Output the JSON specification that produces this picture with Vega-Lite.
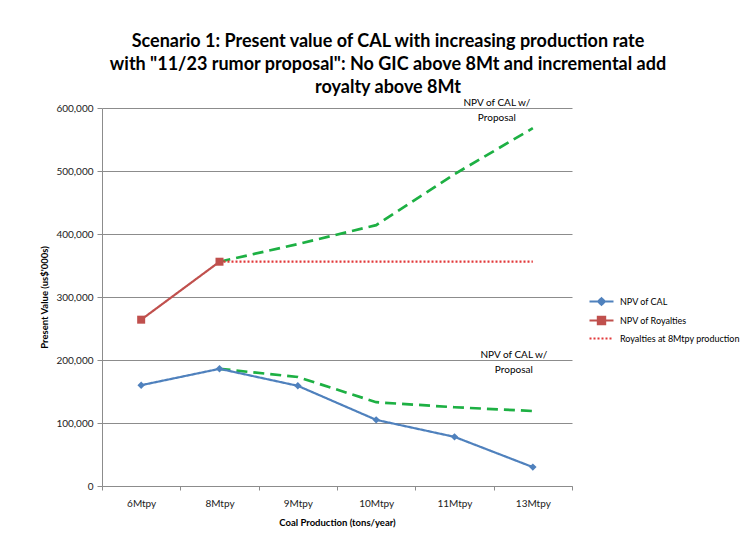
{
  "$schema": "https://vega.github.io/schema/vega-lite/v6.json",
  "width": 470,
  "height": 378,
  "autosize": {"type": "none"},
  "padding": {"left": 102, "top": 108, "right": 175, "bottom": 64},
  "background": "white",
  "title": {
    "text": ["Scenario 1: Present value of CAL with increasing production rate", "with \"11/23 rumor proposal\": No GIC above 8Mt and  incremental add", "royalty above 8Mt"],
    "font": "Lato",
    "fontSize": 18,
    "fontWeight": "bold",
    "color": "#000000",
    "lineHeight": 23,
    "anchor": "middle",
    "frame": "group",
    "dx": 51,
    "offset": 1
  },
  "config": {
    "view": {"stroke": null},
    "font": "Lato",
    "axis": {
      "labelFont": "Lato",
      "titleFont": "Lato",
      "labelColor": "#222222",
      "titleColor": "#000000",
      "domainColor": "#8c8c8c",
      "tickColor": "#8c8c8c",
      "gridColor": "#8c8c8c"
    }
  },
  "datasets": {
    "main": [
      {"prod": "6Mtpy", "series": "NPV of CAL", "value": 160000},
      {"prod": "8Mtpy", "series": "NPV of CAL", "value": 186000},
      {"prod": "9Mtpy", "series": "NPV of CAL", "value": 159000},
      {"prod": "10Mtpy", "series": "NPV of CAL", "value": 105000},
      {"prod": "11Mtpy", "series": "NPV of CAL", "value": 78000},
      {"prod": "13Mtpy", "series": "NPV of CAL", "value": 30000},
      {"prod": "6Mtpy", "series": "NPV of Royalties", "value": 264000},
      {"prod": "8Mtpy", "series": "NPV of Royalties", "value": 356000},
      {"prod": "8Mtpy", "series": "Royalties at 8Mtpy production", "value": 356000},
      {"prod": "9Mtpy", "series": "Royalties at 8Mtpy production", "value": 356000},
      {"prod": "10Mtpy", "series": "Royalties at 8Mtpy production", "value": 356000},
      {"prod": "11Mtpy", "series": "Royalties at 8Mtpy production", "value": 356000},
      {"prod": "13Mtpy", "series": "Royalties at 8Mtpy production", "value": 356000},
      {"prod": "8Mtpy", "series": "Proposal high", "value": 356000},
      {"prod": "9Mtpy", "series": "Proposal high", "value": 384000},
      {"prod": "10Mtpy", "series": "Proposal high", "value": 414000},
      {"prod": "11Mtpy", "series": "Proposal high", "value": 495000},
      {"prod": "13Mtpy", "series": "Proposal high", "value": 568000},
      {"prod": "8Mtpy", "series": "Proposal low", "value": 186000},
      {"prod": "9Mtpy", "series": "Proposal low", "value": 173000},
      {"prod": "10Mtpy", "series": "Proposal low", "value": 133000},
      {"prod": "11Mtpy", "series": "Proposal low", "value": 125000},
      {"prod": "13Mtpy", "series": "Proposal low", "value": 119000}
    ]
  },
  "data": {"name": "main"},
  "encoding": {
    "x": {
      "field": "prod",
      "type": "ordinal",
      "sort": ["6Mtpy", "8Mtpy", "9Mtpy", "10Mtpy", "11Mtpy", "13Mtpy"],
      "bandPosition": 0.5,
      "scale": {"type": "band", "paddingInner": 0, "paddingOuter": 0, "domain": ["6Mtpy", "8Mtpy", "9Mtpy", "10Mtpy", "11Mtpy", "13Mtpy"]},
      "axis": {
        "title": "Coal Production (tons/year)",
        "titleFontSize": 9.5,
        "titleFontWeight": "bold",
        "titlePadding": 9,
        "labelAngle": 0,
        "labelFontSize": 10,
        "labelPadding": 8,
        "tickBand": "extent",
        "tickSize": 4,
        "grid": false
      }
    },
    "y": {
      "field": "value",
      "type": "quantitative",
      "scale": {"domain": [0, 600000], "nice": false},
      "axis": {
        "title": "Present Value (us$'000s)",
        "titleFontSize": 9.5,
        "titleFontWeight": "bold",
        "titlePadding": 6,
        "values": [0, 100000, 200000, 300000, 400000, 500000, 600000],
        "format": ",.0f",
        "labelFontSize": 10,
        "labelPadding": 4,
        "tickSize": 5,
        "grid": true
      }
    }
  },
  "layer": [
    {
      "transform": [{"filter": "datum.series == 'Proposal high' || datum.series == 'Proposal low'"}],
      "mark": {"type": "line", "color": "#1DB043", "strokeWidth": 2.7, "strokeDash": [11, 6]},
      "encoding": {"detail": {"field": "series"}}
    },
    {
      "transform": [{"filter": "datum.series == 'NPV of CAL' || datum.series == 'NPV of Royalties' || datum.series == 'Royalties at 8Mtpy production'"}],
      "mark": {"type": "line", "strokeWidth": 2.2},
      "encoding": {
        "color": {
          "field": "series",
          "type": "nominal",
          "scale": {"domain": ["NPV of CAL", "NPV of Royalties", "Royalties at 8Mtpy production"], "range": ["#4F81BD", "#C0504D", "#E2393A"]},
          "legend": {
            "orient": "none",
            "legendX": 492,
            "legendY": 186,
            "title": null,
            "symbolSize": 144,
            "symbolStrokeWidth": 2,
            "labelFont": "Lato",
            "labelFontSize": 9,
            "labelColor": "#000000",
            "labelOffset": 11,
            "rowPadding": 2,
            "encode": {
              "symbols": {
                "update": {
                  "shape": {"signal": "datum.value == 'NPV of CAL' ? 'M-2,0H2M0,-0.55L0.55,0L0,0.55L-0.55,0Z' : datum.value == 'NPV of Royalties' ? 'M-2,0H2M-0.6,-0.6H0.6V0.6H-0.6Z' : 'M-2,0H2'"},
                  "fill": {"signal": "datum.value == 'NPV of CAL' ? '#4F81BD' : datum.value == 'NPV of Royalties' ? '#C0504D' : 'transparent'"},
                  "strokeDash": {"signal": "datum.value == 'Royalties at 8Mtpy production' ? [1.5, 2] : [1, 0]"},
                  "strokeWidth": {"signal": "datum.value == 'Royalties at 8Mtpy production' ? 1.5 : 2"}
                }
              }
            }
          }
        },
        "strokeDash": {
          "field": "series",
          "type": "nominal",
          "scale": {"domain": ["NPV of CAL", "NPV of Royalties", "Royalties at 8Mtpy production"], "range": [[1, 0], [1, 0], [2, 2]]},
          "legend": null
        },
        "strokeWidth": {
          "field": "series",
          "type": "nominal",
          "scale": {"domain": ["NPV of CAL", "NPV of Royalties", "Royalties at 8Mtpy production"], "range": [2.2, 2.2, 1.6]},
          "legend": null
        }
      }
    },
    {
      "transform": [{"filter": "datum.series == 'NPV of CAL'"}],
      "mark": {"type": "point", "shape": "diamond", "filled": true, "opacity": 1, "color": "#4F81BD", "size": 55}
    },
    {
      "transform": [{"filter": "datum.series == 'NPV of Royalties'"}],
      "mark": {"type": "point", "shape": "square", "filled": true, "opacity": 1, "color": "#C0504D", "size": 64}
    },
    {
      "data": {"values": [{"prod": "13Mtpy", "value": 608500, "label": "NPV of CAL w/\nProposal"}]},
      "mark": {"type": "text", "font": "Lato", "fontSize": 10, "lineBreak": "\n", "lineHeight": 15, "align": "center", "baseline": "middle", "dx": -36, "color": "#000000"},
      "encoding": {"text": {"field": "label"}}
    },
    {
      "data": {"values": [{"prod": "13Mtpy", "value": 207500, "label": "NPV of CAL w/\nProposal"}]},
      "mark": {"type": "text", "font": "Lato", "fontSize": 10, "lineBreak": "\n", "lineHeight": 15, "align": "center", "baseline": "middle", "dx": -19, "color": "#000000"},
      "encoding": {"text": {"field": "label"}}
    }
  ]
}
